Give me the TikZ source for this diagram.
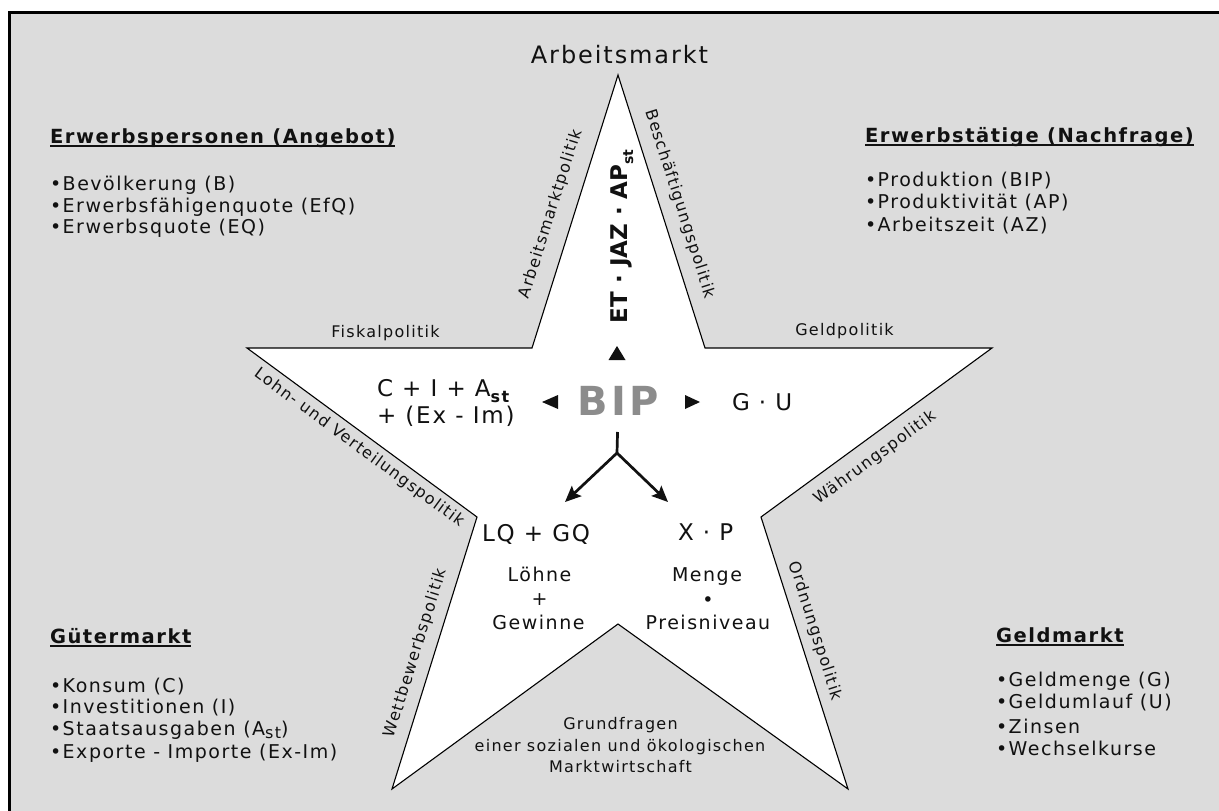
\documentclass[tikz,border=0pt]{standalone}
\usepackage{fontspec}
\setmainfont{DejaVu Sans}[LetterSpace=8]
\newfontfamily\tightfont{DejaVu Sans}
\usetikzlibrary{arrows.meta}
\definecolor{bggray}{RGB}{220,220,220}
\definecolor{bipgray}{RGB}{140,140,140}
\definecolor{ink}{RGB}{17,17,17}
\newcommand\setfs[1]{\fontsize{#1}{#1}\selectfont}
\tikzset{
  txt/.style={inner sep=0pt, outer sep=0pt, text=ink},
  listitem/.style={txt, anchor=base west, font=\setfs{19}},
  heading/.style={txt, anchor=base west, font=\setfs{19.5}\bfseries},
  headline/.style={line width=1.5pt, draw=ink},
  edgelabel/.style={txt, font=\setfs{16}},
  bigterm/.style={txt, anchor=base west, font=\setfs{23}},
  smallterm/.style={txt, anchor=base, font=\setfs{19}},
  notetext/.style={txt, anchor=base, font=\setfs{16}},
  starline/.style={draw=black, line width=1.1pt, fill=white, line join=miter},
  tri/.style={fill=ink},
  fork/.style={line width=2.7pt, draw=ink},
  forkarrow/.style={fork, -{Stealth[length=16pt,width=14pt,inset=3pt]}},
}
\begin{document}
\begin{tikzpicture}[x=1pt,y=-1pt]
\useasboundingbox (0,0) rectangle (1219,811);
\fill[white] (0,0) rectangle (1219,811);
\fill[bggray] (8,11) rectangle (1219,811);
\draw[line width=3pt] (9.5,811) -- (9.5,12.5) -- (1219,12.5);

% star
\coordinate (sT) at (618,75);
\coordinate (sUR) at (705,348);
\coordinate (sR) at (992,348);
\coordinate (sLR) at (761,517);
\coordinate (sBR) at (848,789);
\coordinate (sB) at (618,624);
\coordinate (sBL) at (392,789);
\coordinate (sLL) at (477,517);
\coordinate (sL) at (247,348);
\coordinate (sUL) at (532,348);
\draw[starline] (sT) -- (sUR) -- (sR) -- (sLR) -- (sBR) -- (sB) -- (sBL) -- (sLL) -- (sL) -- (sUL) -- cycle;

% title
\node[txt, anchor=base, font=\setfs{24}] (arbm) at (619.5,63) {Arbeitsmarkt};

% top left block
\node[heading] (h1) at (50,143) {Erwerbspersonen (Angebot)};
\draw[headline] ([yshift=-3pt]h1.base west) -- ([yshift=-3pt]h1.base east);
\node[listitem] (l1) at (50,190) {•Bevölkerung (B)};
\node[listitem] (l2) at (50,212) {•Erwerbsfähigenquote (EfQ)};
\node[listitem] (l3) at (50,233) {•Erwerbsquote (EQ)};

% top right block
\node[heading] (h2) at (865,142) {Erwerbstätige (Nachfrage)};
\draw[headline] ([yshift=-3pt]h2.base west) -- ([yshift=-3pt]h2.base east);
\node[listitem] (r1) at (865,186) {•Produktion (BIP)};
\node[listitem] (r2) at (865,208) {•Produktivität (AP)};
\node[listitem] (r3) at (865,231) {•Arbeitszeit (AZ)};

% bottom left block
\node[heading] (h3) at (50,643) {Gütermarkt};
\draw[headline] ([yshift=-3pt]h3.base west) -- ([yshift=-3pt]h3.base east);
\node[listitem] (g1) at (50,692) {•Konsum (C)};
\node[listitem] (g2) at (50,713) {•Investitionen (I)};
\node[listitem] (g3) at (50,735) {•Staatsausgaben (A\raisebox{-3pt}{\setfs{16}st})};
\node[listitem] (g4) at (50,758) {•Exporte - Importe (Ex-Im)};

% bottom right block
\node[heading] (h4) at (996,642) {Geldmarkt};
\draw[headline] ([yshift=-3pt]h4.base west) -- ([yshift=-3pt]h4.base east);
\node[listitem] (m1) at (996,686) {•Geldmenge (G)};
\node[listitem] (m2) at (996,708) {•Geldumlauf (U)};
\node[listitem] (m3) at (996,733) {•Zinsen};
\node[listitem] (m4) at (996,755) {•Wechselkurse};

% policy labels
\node[notetext] (fisk) at (385.5,337) {Fiskalpolitik};
\node[notetext] (geldp) at (844.5,335) {Geldpolitik};
\node[edgelabel, rotate=72.4] (lab1) at (551,214) {Arbeitsmarktpolitik};
\node[edgelabel, rotate=-72.3] (lab2) at (680,204) {Beschäftigungspolitik};
\node[edgelabel, rotate=-36.3] (lab3) at (359,448) {Lohn- und Verteilungspolitik};
\node[edgelabel, rotate=36.2] (lab4) at (875,458) {Währungspolitik};
\node[edgelabel, rotate=72.6] (lab5) at (416,653) {Wettbewerbspolitik};
\node[edgelabel, rotate=-72.3] (lab6) at (815,631) {Ordnungspolitik};

% inner terms
\node[txt, rotate=90, anchor=base west, font=\tightfont\bfseries\setfs{23}] (etjaz) at (627,323)
  {ET · JAZ · AP\raisebox{-6pt}{\setfs{14}st}};
\node[txt, anchor=base, font=\bfseries\setfs{40}, text=bipgray] (bip) at (618,415) {BIP};
\node[bigterm] (cia) at (377,396) {C + I + A\raisebox{-6pt}{\bfseries\setfs{16}st}};
\node[bigterm] (exim) at (377,423) {+ (Ex - Im)};
\node[bigterm] (gu) at (732,410) {G · U};
\node[bigterm] (lqgq) at (482,541) {LQ + GQ};
\node[bigterm] (xp) at (678,540) {X · P};

\node[smallterm] (loehne) at (539.5,581) {Löhne};
\node[smallterm] (plus) at (539.5,605) {+};
\node[smallterm] (gewinne) at (538.5,629) {Gewinne};
\node[smallterm] (menge) at (707,581) {Menge};
\node[smallterm] (mal) at (708,606) {•};
\node[smallterm] (preis) at (708,629) {Preisniveau};

\node[notetext] (gf1) at (620.5,729) {Grundfragen};
\node[notetext] (gf2) at (620,751) {einer sozialen und ökologischen};
\node[notetext] (gf3) at (620.5,772) {Marktwirtschaft};

% arrowheads around BIP
\fill[tri] (617,346) -- (608.5,360) -- (625.5,360) -- cycle;
\fill[tri] (542,402) -- (558,395) -- (558,409) -- cycle;
\fill[tri] (700,402) -- (685,395) -- (685,409) -- cycle;

% fork arrows
\coordinate (forkpt) at (617,453);
\coordinate (tipL) at (565,502);
\coordinate (tipR) at (668,502);
\draw[fork, shorten <=17pt] (bip.south) -- (forkpt);
\draw[forkarrow] (forkpt) -- (tipL);
\draw[forkarrow] (forkpt) -- (tipR);
\end{tikzpicture}
\end{document}
